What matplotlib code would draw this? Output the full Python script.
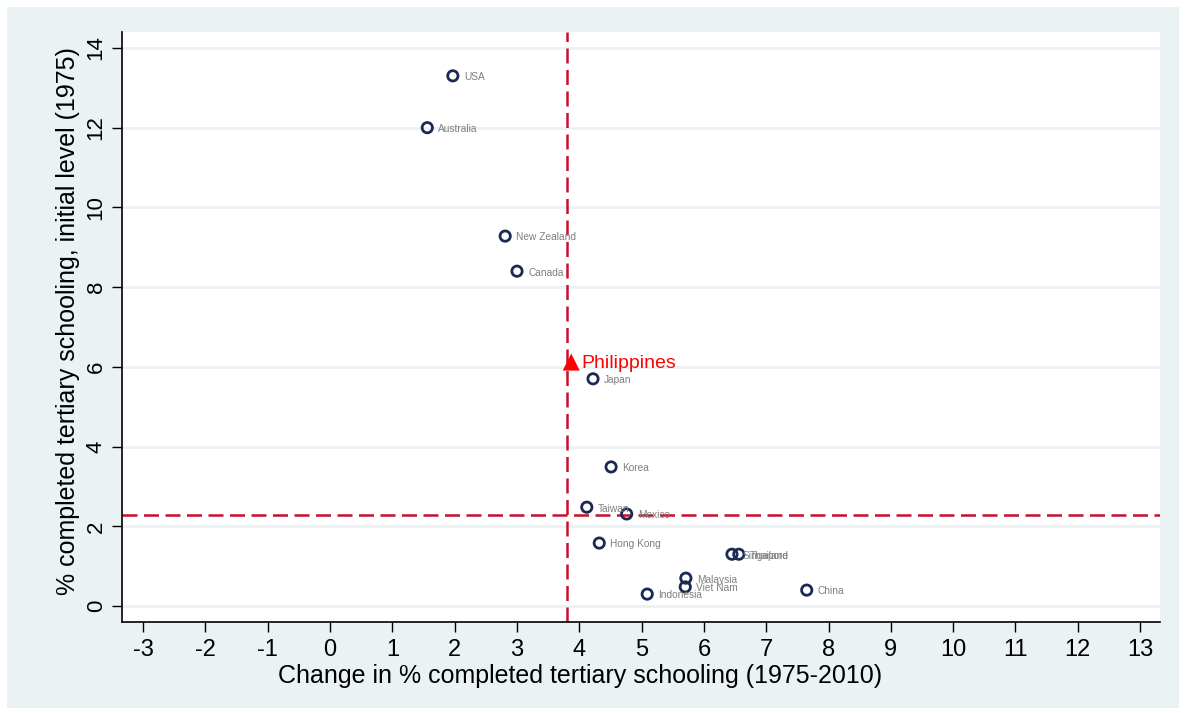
import matplotlib
matplotlib.use("Agg")
import matplotlib.pyplot as plt
from matplotlib.patches import Rectangle

plt.rcParams['font.family'] = ['Liberation Sans', 'DejaVu Sans']

countries = ["USA", "Australia", "New Zealand", "Canada", "Japan", "Korea", "Taiwan",
             "Mexico", "Hong Kong", "Singapore", "Thailand", "Malaysia", "Viet Nam",
             "Indonesia", "China"]
change = [1.97, 1.56, 2.81, 3.00, 4.22, 4.51, 4.12, 4.76, 4.32, 6.45, 6.56, 5.71, 5.70, 5.09, 7.65]
initial = [13.3, 12.0, 9.28, 8.4, 5.7, 3.49, 2.48, 2.31, 1.58, 1.30, 1.30, 0.70, 0.48, 0.30, 0.40]

phl_name = "Philippines"
phl_change = 3.87
phl_initial = 6.12

mean_change = 3.80
mean_initial = 2.28

xticks = list(range(-3, 14))
yticks = list(range(0, 15, 2))

fig = plt.figure(figsize=(11.86, 7.13), dpi=100, facecolor='white')
fig.patches.append(Rectangle((7/1186, 5/713), 1 - 14/1186, 1 - 12/713,
                             transform=fig.transFigure, facecolor='#EAF2F3',
                             edgecolor='none', zorder=-10))
ax = fig.add_axes([122/1186, (713-622)/713, (1160-122)/1186, (622-32)/713])
ax.set_facecolor('white')

ax.set_xlim(-3.34, 13.32)
ax.set_ylim(-0.4, 14.4)

for yt in yticks:
    ax.axhline(yt, color='#EAF2F3', lw=2, zorder=1)

ax.axvline(mean_change, color='#C8102E', lw=1.8, dashes=(6, 2.6), zorder=2)
ax.axhline(mean_initial, color='#C8102E', lw=1.8, dashes=(6, 2.6), zorder=2)

ax.scatter(change, initial, s=55, facecolors='none', edgecolors='#1A2A55',
           linewidths=2, zorder=3)
for name, x, y in zip(countries, change, initial):
    ax.annotate(name, (x, y), xytext=(8, -1), textcoords='offset points',
                fontsize=7.3, color='#7F7F7F', va='center', ha='left', zorder=4)

ax.scatter([phl_change], [phl_initial], marker='^', s=150, color='#FF0000',
           edgecolors='none', zorder=5)
ax.annotate(phl_name, (phl_change, phl_initial), xytext=(7, -1),
            textcoords='offset points', fontsize=14, color='#FF0000',
            va='center', ha='left', zorder=5)

ax.set_xticks(xticks)
ax.set_xticklabels([str(t) for t in xticks])
ax.set_yticks(yticks)
ax.set_yticklabels([str(t) for t in yticks], rotation=90, va='center')
ax.tick_params(axis='both', direction='out', length=7, width=1,
               color='black', labelcolor='black')
ax.tick_params(axis='x', labelsize=17, pad=5)
ax.tick_params(axis='y', labelsize=16, pad=4)

for s in ['top', 'right']:
    ax.spines[s].set_visible(False)
for s in ['left', 'bottom']:
    ax.spines[s].set_linewidth(1.2)
    ax.spines[s].set_color('black')

ax.set_xlabel("Change in % completed tertiary schooling (1975-2010)", fontsize=18)
ax.set_ylabel("% completed tertiary schooling, initial level (1975)", fontsize=18)
ax.xaxis.set_label_coords((580 - 122) / 1038, (622 - 664) / 590)
ax.yaxis.set_label_coords((80 - 122) / 1038, (622 - 321) / 590)

fig.savefig("out.png", dpi=100, facecolor=fig.get_facecolor())
